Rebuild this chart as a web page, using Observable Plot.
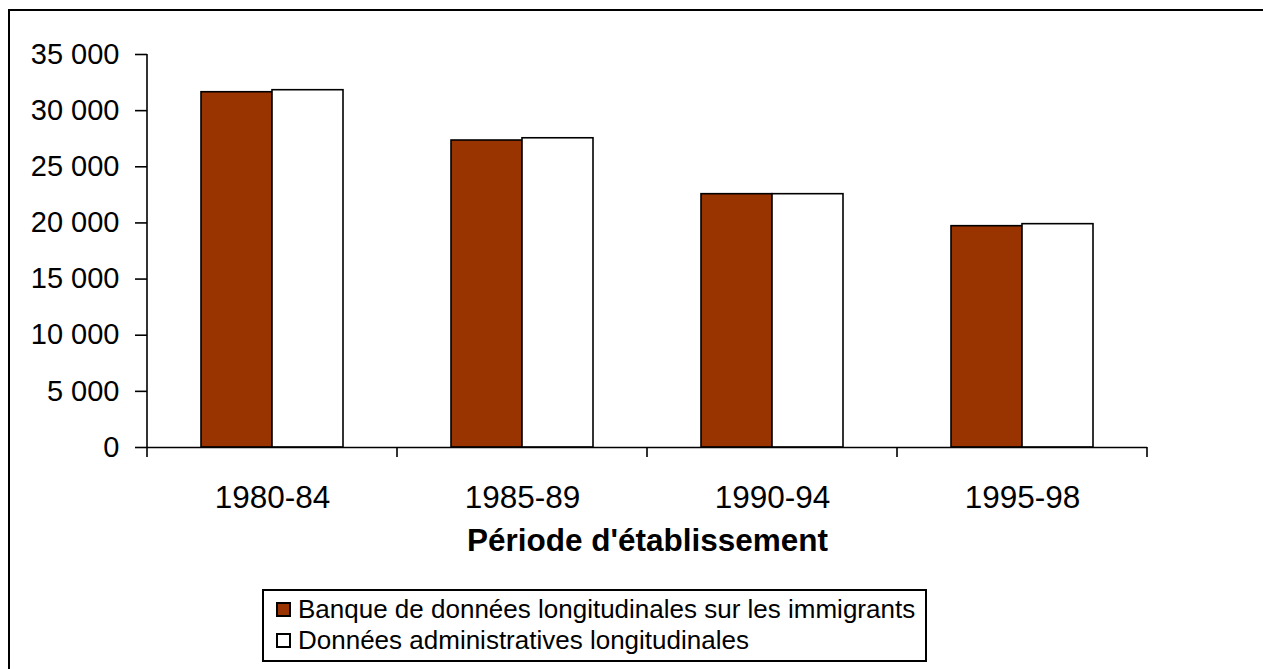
<!DOCTYPE html>
<html>
<head>
<meta charset="utf-8">
<script src="https://cdn.jsdelivr.net/npm/d3@7"></script>
<script src="https://cdn.jsdelivr.net/npm/@observablehq/plot@0.6"></script>
<style>
  html, body { margin: 0; padding: 0; background: white; overflow: hidden; }
  #wrap { position: relative; width: 1263px; height: 669px; font-family: "Liberation Sans", Arial, sans-serif; }
  #border { position: absolute; left: 8px; top: 9px; width: 1400px; height: 800px; border: 2px solid black; box-sizing: border-box; }
  #chart { position: absolute; left: 0; top: 0; }
  #chart svg [aria-label="fx-axis label"] text, #chart svg [aria-label="fx-axis label"] { font-weight: bold; font-size: 31.5px; }
  #legend { position: absolute; left: 262px; top: 589px; border: 2px solid black; padding: 3px 10px 4px 12px; font-size: 26px; background: white; }
  .row { display: flex; align-items: center; height: 31px; }
  .sw { width: 11px; height: 11px; border: 2px solid black; margin-right: 7px; }
</style>
</head>
<body>
<div id="wrap">
  <div id="border"></div>
  <div id="chart"></div>
  <div id="legend"></div>
</div>
<script>
const periods = ["1980-84", "1985-89", "1990-94", "1995-98"];
const series = ["Banque de données longitudinales sur les immigrants", "Données administratives longitudinales"];
const valuesBDIM = [31640, 27340, 22560, 19710];
const valuesDAL = [31820, 27540, 22560, 19890];
const colors = ["#993300", "#ffffff"];
const yTicks = [0, 5000, 10000, 15000, 20000, 25000, 30000, 35000];
const xTitle = "Période d'établissement";

const data = [];
periods.forEach((p, i) => {
  data.push({period: p, series: series[0], value: valuesBDIM[i]});
  data.push({period: p, series: series[1], value: valuesDAL[i]});
});

const fmt = d => d3.format(",")(d).replace(/,/g, " ");

const plot = Plot.plot({
  width: 1263,
  height: 575,
  marginTop: 54,
  marginBottom: 128,
  marginLeft: 145,
  marginRight: 115,
  style: {fontFamily: "'Liberation Sans', Arial, sans-serif", fontSize: "29px", color: "black", background: "transparent"},
  fx: {domain: periods, padding: 0, label: xTitle},
  x: {domain: series, paddingInner: 0, paddingOuter: 0.75, axis: null},
  y: {domain: [0, 35000]},
  color: {domain: series, range: colors},
  marks: [
    Plot.barY(data, {fx: "period", x: "series", y: "value", fill: "series", stroke: "black", strokeWidth: 1.6}),
    Plot.ruleY([0], {stroke: "black", strokeWidth: 1.6}),
    Plot.axisY({ticks: yTicks, tickFormat: fmt, tickSize: 12, tickPadding: 16, label: null, stroke: "black", strokeWidth: 1.6, strokeOpacity: 1, fontSize: 29}),
    Plot.axisFx({anchor: "bottom", tickSize: 0, tickPadding: 38, fontSize: 31.5, label: xTitle, labelAnchor: "center", labelOffset: 103})
  ]
});

document.getElementById("chart").appendChild(plot);

// axis line and boundary ticks between periods, derived from the scales
const fxs = plot.scale("fx");
const ys = plot.scale("y");
const y0 = ys.apply(0);
const yTop = ys.apply(ys.domain[1]);
const bounds = fxs.domain.map(d => fxs.apply(d));
bounds.push(fxs.apply(fxs.domain[fxs.domain.length - 1]) + fxs.bandwidth);
const g = d3.select(plot).append("g").attr("aria-label", "axis lines");
g.append("line")
  .attr("x1", bounds[0]).attr("x2", bounds[0])
  .attr("y1", yTop).attr("y2", y0)
  .attr("stroke", "black").attr("stroke-width", 1.6);
g.selectAll("line.bt").data(bounds).join("line").attr("class", "bt")
  .attr("x1", d => d).attr("x2", d => d)
  .attr("y1", y0).attr("y2", y0 + 10)
  .attr("stroke", "black").attr("stroke-width", 1.6);

// legend
const leg = d3.select("#legend");
series.forEach((s, i) => {
  const r = leg.append("div").attr("class", "row");
  r.append("div").attr("class", "sw").style("background", colors[i]);
  r.append("span").text(s);
});
</script>
</body>
</html>
